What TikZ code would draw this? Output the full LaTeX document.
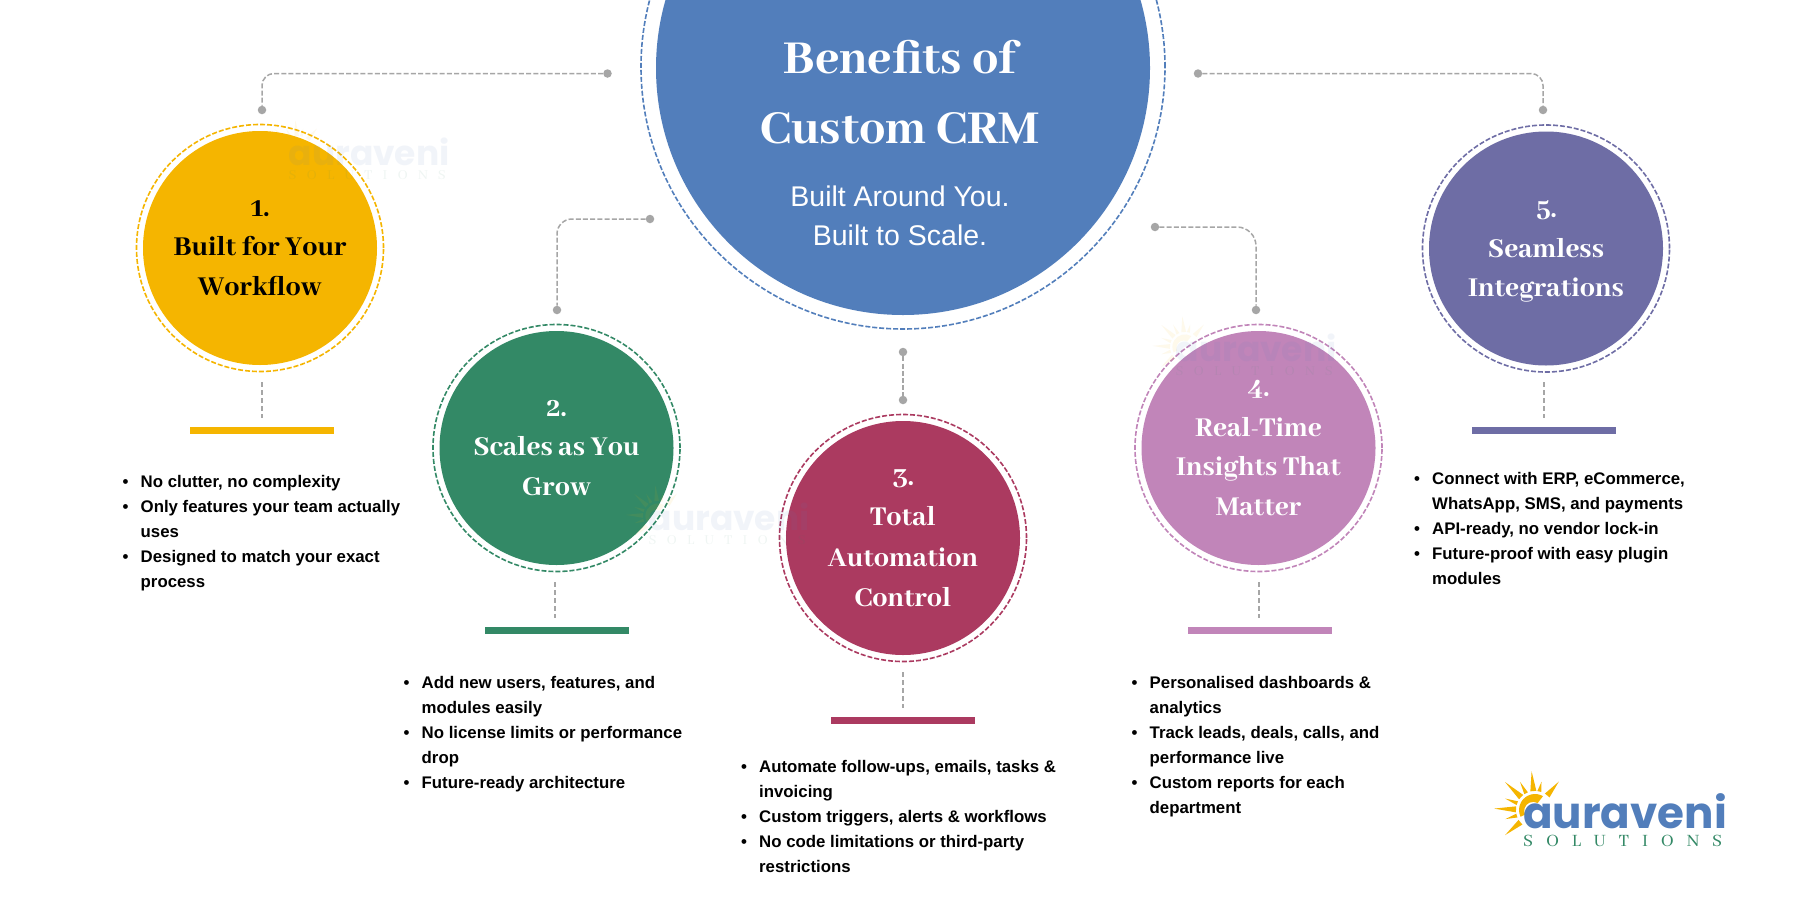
\documentclass[tikz,border=0pt]{standalone}
\usepackage{fontspec}
\usepackage{xcolor}
\setmainfont{Liberation Sans}
\newfontfamily\headfont[BoldFont={Abhaya Libre ExtraBold}]{Abhaya Libre}
\newfontfamily\logofont{Poppins}
\definecolor{crmblue}{HTML}{527EBB}
\definecolor{amber}{HTML}{F5B500}
\definecolor{leaf}{HTML}{338966}
\definecolor{wine}{HTML}{AB3A60}
\definecolor{orchid}{HTML}{C185B9}
\definecolor{dusk}{HTML}{6E6DA5}
\definecolor{linkgray}{HTML}{A6A6A6}
\newcommand{\bu}{\makebox[18pt][l]{\textbullet}}
\newcommand{\cn}{\hspace*{18pt}}
\tikzset{
	bubble/.style={circle, inner sep=0pt, minimum size=234pt, align=center, fill=#1,
		font=\headfont\bfseries\fontsize{30}{39.5}\selectfont},
	ring/.style={circle, inner sep=0pt, minimum size=247pt, draw=#1, line width=1.6pt, dash pattern=on 5pt off 2pt},
	bar/.style={rectangle, inner sep=0pt, minimum width=144pt, minimum height=7pt, fill=#1},
	dot/.style={circle, inner sep=0pt, minimum size=8.5pt, fill=linkgray},
	link/.style={draw=linkgray, line width=1.5pt, dash pattern=on 5pt off 2.2pt},
	stem/.style={draw=linkgray, line width=1.2pt, dash pattern=on 5pt off 3pt},
	points/.style={anchor=north west, inner sep=0pt, align=left,
		font=\bfseries\fontsize{16.8}{25}\selectfont},
	auralogo/.pic={
		\foreach \a/\l/\w in {95/39/6, 77/29/4, 50/37/6, 118/32/4, 137/41/6, 159/32/4, 178/41/6, 197/31/4, 220/39/6} {
			\fill[amber] ([shift={(\a+90:\w*0.5pt)}]\a:19pt) -- ([shift={(\a-90:\w*0.5pt)}]\a:19pt) -- (\a:\l pt) -- cycle;
		}
		\fill[amber] (60:16pt) arc[start angle=60, end angle=205, radius=16pt] -- (205:11pt) arc[start angle=205, end angle=60, radius=9pt] -- cycle;
		\node[anchor=base west, inner sep=0pt, transform shape, text=crmblue, font=\logofont\bfseries\fontsize{43.6}{44}\selectfont] (-word) at (-12pt,-18pt) {auraveni};
		\node[anchor=base west, inner sep=0pt, transform shape, text=leaf, font=\headfont\fontsize{19}{19}\selectfont] (-sub) at (-12pt,-36pt)
			{\makebox[199pt][s]{S\hfill O\hfill L\hfill U\hfill T\hfill I\hfill O\hfill N\hfill S}};
	}
}

\begin{document}
\begin{tikzpicture}[x=1pt, y=-1pt]
	\clip (0,0) rectangle (1800,900);
	\fill[white] (0,0) rectangle (1800,900);

	% centre
	\node[circle, inner sep=0pt, minimum size=494pt, fill=crmblue] (hub) at (903,68) {};
	\node[ring=crmblue, minimum size=524pt] (hubring) at (903,67) {};
	\node[text=white, font=\headfont\bfseries\fontsize{52}{70}\selectfont, align=center] (title) at (900,92) {Benefits of\\Custom CRM};
	\node[text=white, font=\fontsize{28.5}{39}\selectfont, align=center] (tagline) at (900,216) {Built Around You.\\Built to Scale.};

	% the five circles
	\node[bubble=amber, text=black] (c1) at (260,248) {1.\\Built for Your\\Workflow};
	\node[bubble=leaf, text=white] (c2) at (556.5,448) {2.\\Scales as You\\Grow};
	\node[bubble=wine, text=white] (c3) at (903,538) {3.\\[1pt]Total\\[1pt]Automation\\[1pt]Control};
	\node[bubble=orchid, text=white] (c4) at (1258.5,448) {4.\\Real-Time\\Insights That\\Matter};
	\node[bubble=dusk, text=white] (c5) at (1546,248.5) {5.\\Seamless\\\smash{Integrations}};
	\node[ring=amber] (r1) at (c1) {};
	\node[ring=leaf] (r2) at (c2) {};
	\node[ring=wine] (r3) at (c3) {};
	\node[ring=orchid] (r4) at (c4) {};
	\node[ring=dusk] (r5) at (c5) {};

	% connectors
	\node[dot] (d1a) at (607.5,73.5) {};
	\node[dot] (d1b) at (262,110) {};
	\node[dot] (d2a) at (650,219) {};
	\node[dot] (d2b) at (557,310) {};
	\node[dot] (d3a) at (903,352) {};
	\node[dot] (d3b) at (903,400) {};
	\node[dot] (d4a) at (1155,227) {};
	\node[dot] (d4b) at (1256,310) {};
	\node[dot] (d5a) at (1198,73.5) {};
	\node[dot] (d5b) at (1543,110) {};
	\draw[link, rounded corners=12pt] (d1a) -| (d1b);
	\draw[link, rounded corners=15pt] (d2a) -| (d2b);
	\draw[link] (d3a) -- (d3b);
	\draw[link, rounded corners=19pt] (d4a) -| (d4b);
	\draw[link, rounded corners=12pt] (d5a) -| (d5b);

	% stems and bars
	\foreach \n/\x/\y/\bx/\col in {1/262/382/262/amber, 2/555/582/557/leaf, 3/903/672/903/wine, 4/1259/582/1260/orchid, 5/1544/382/1544/dusk} {
		\coordinate (s\n) at (\x,\y);
		\node[bar=\col, anchor=north] (b\n) at (\bx,\y+45) {};
		\draw[stem] (s\n) -- ++(0,36);
	}

	% lists
	\node[points] (t1) at (122.5,475.5) {\bu No clutter, no complexity\\\bu Only features your team actually\\\cn uses\\\bu Designed to match your exact\\\cn process};
	\node[points] (t2) at (403.5,676.5) {\bu Add new users, features, and\\\cn modules easily\\\bu No license limits or performance\\\cn drop\\\bu Future-ready architecture};
	\node[points] (t3) at (741,760.5) {\bu Automate follow-ups, emails, tasks \&\\\cn invoicing\\\bu Custom triggers, alerts \& workflows\\\bu No code limitations or third-party\\\cn restrictions};
	\node[points] (t4) at (1131.5,676.5) {\bu Personalised dashboards \&\\\cn analytics\\\bu Track leads, deals, calls, and\\\cn performance live\\\bu Custom reports for each\\\cn department};
	\node[points] (t5) at (1414,472.5) {\bu Connect with ERP, eCommerce,\\\cn WhatsApp, SMS, and payments\\\bu API-ready, no vendor lock-in\\\bu Future-proof with easy plugin\\\cn modules};

	% logo and watermarks
	\pic (logo) at (1535,810) {auralogo};
	\pic[opacity=0.08, scale=0.79] (mark1) at (298,151) {auralogo};
	\pic[opacity=0.08, scale=0.79] (mark2) at (658,516) {auralogo};
	\pic[opacity=0.08, scale=0.79] (mark4) at (1185,347) {auralogo};
\end{tikzpicture}
\end{document}
